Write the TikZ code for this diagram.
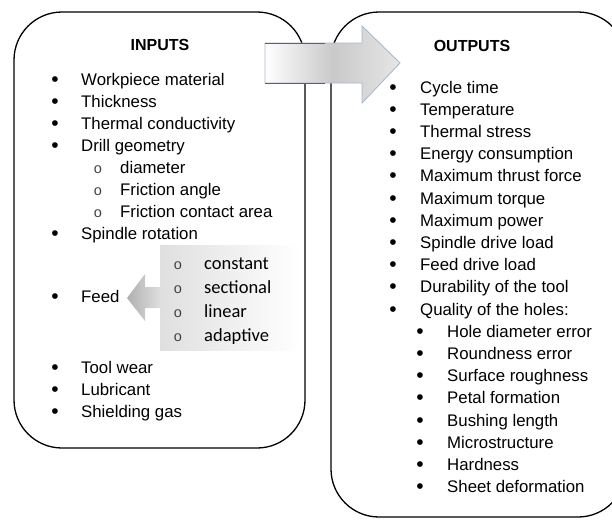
\documentclass[tikz,border=0pt]{standalone}
\usepackage{fontspec}
\setmainfont{Liberation Sans}
\newfontfamily\calib{Carlito}
\definecolor{arrowedge}{RGB}{170,184,204}
\begin{document}
\begin{tikzpicture}[x=1pt, y=-1pt,
  box/.style={line width=1.3pt, rounded corners=48pt},
  item/.style={anchor=base west, inner sep=0pt, font=\fontsize{16.8}{20}\selectfont},
  dot/.style={anchor=base, inner sep=0pt, font=\fontsize{21}{24}\selectfont},
  subdot/.style={anchor=base, inner sep=0pt, font=\fontsize{14.5}{16}\selectfont, text=black!75},
  choice/.style={anchor=base west, inner sep=0pt, font=\calib\fontsize{18.5}{22}\selectfont},
  head/.style={anchor=base, inner sep=0pt, font=\fontsize{16}{18}\selectfont\bfseries}]
\useasboundingbox (0,0) rectangle (612,522);
\clip (0,0) rectangle (612,522);

% the two boxes
\draw [box] (14,12) rectangle (305,448);
\draw [box] (331,12) rectangle (626,517);

% big arrow between them
\shade [draw=arrowedge, line width=.9pt, left color=white, right color=gray!20, middle color=gray!42]
  (265,43) -- (362,43) -- (362,26) -- (400,63) -- (362,103) -- (362,83) -- (265,83) -- cycle;
\draw [gray!75!black, line width=.9pt] (265,43) -- (325,43) (265,83) -- (325,83);

\node [head] (inputs) at (160,50) {INPUTS};
\node [head] (outputs) at (472,51) {OUTPUTS};

% inputs
\foreach \t [count=\i] in {Workpiece material, Thickness, Thermal conductivity, Drill geometry}{
  \node [dot] (ib\i) at (55,{64+22*\i}) {•};
  \node [item] (in\i) at (81,{63+22*\i}) {\t};
}
\foreach \t [count=\i] in {diameter, Friction angle, Friction contact area}{
  \node [subdot] (gb\i) at (98,{151+22*\i}) {o};
  \node [item] (geo\i) at (120,{151+22*\i}) {\t};
}
\node [dot] (ib5) at (55,240) {•};
\node [item] (in5) at (81,239) {Spindle rotation};

% feed modes
\shade [left color=gray!25, right color=white] (160,245) rectangle (300,350);
\shade [left color=gray!62, right color=gray!25]
  (127,298) -- (145,274) -- (145,287) -- (161,287) -- (161,308) -- (145,308) -- (145,321) -- cycle;
\node [dot] (ib6) at (55,303) {•};
\node [item] (feed) at (81,302) {Feed};
\foreach \t [count=\i] in {constant, sectional, linear, adaptive}{
  \node [subdot] (fb\i) at (178,{244.7+24.3*\i}) {o};
  \node [choice] (mode\i) at (204,{244.7+24.3*\i}) {\t};
}

\foreach \t [count=\i] in {Tool wear, Lubricant, Shielding gas}{
  \node [dot] (jb\i) at (55,{352+22*\i}) {•};
  \node [item] (last\i) at (81,{351+22*\i}) {\t};
}

% outputs
\foreach \t [count=\i] in {Cycle time, Temperature, Thermal stress, Energy consumption,
  Maximum thrust force, Maximum torque, Maximum power, Spindle drive load,
  Feed drive load, Durability of the tool, Quality of the holes:}{
  \node [dot] (ob\i) at (393,{71.8+22.2*\i}) {•};
  \node [item] (out\i) at (420,{70.8+22.2*\i}) {\t};
}
\foreach \t [count=\i] in {Hole diameter error, Roundness error, Surface roughness,
  Petal formation, Bushing length, Microstructure, Hardness, Sheet deformation}{
  \node [dot] (qb\i) at (420,{316+22.2*\i}) {•};
  \node [item] (hole\i) at (447,{315+22.2*\i}) {\t};
}
\end{tikzpicture}
\end{document}
